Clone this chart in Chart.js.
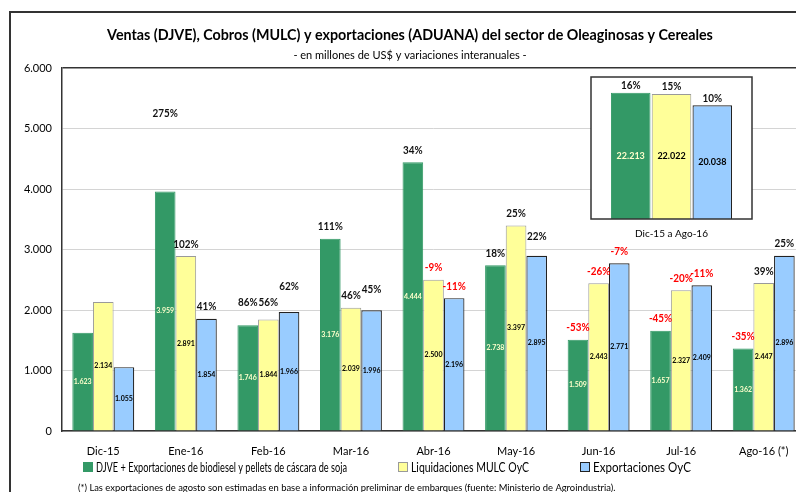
<!DOCTYPE html>
<html><head><meta charset="utf-8">
<script src="https://cdn.jsdelivr.net/npm/chart.js@4"></script>
<style>
html,body{margin:0;padding:0;background:#fff;overflow:hidden;width:796px;height:492px;}
#wrap{position:relative;width:796px;height:492px;overflow:hidden;}
#main{position:absolute;left:0;top:0;}
#inset{position:absolute;left:560px;top:70px;}
</style></head><body>
<div id="wrap"><canvas id="main" width="806" height="492"></canvas><canvas id="inset" width="220" height="175"></canvas></div>
<script>
// ---- data ----
const categories = ['Dic-15','Ene-16','Feb-16','Mar-16','Abr-16','May-16','Jun-16','Jul-16','Ago-16 (*)'];
const djve = [1623, 3959, 1746, 3176, 4444, 2738, 1509, 1657, 1362];
const mulc = [2134, 2891, 1844, 2039, 2500, 3397, 2443, 2327, 2447];
const expo = [1055, 1854, 1966, 1996, 2196, 2895, 2771, 2409, 2896];
const djveVar = [null, 275, 86, 111, 34, 18, -53, -45, -35];
const mulcVar = [null, 102, 56, 46, -9, 25, -26, -20, 39];
const expoVar = [null, 41, 62, 45, -11, 22, -7, -11, 25];
const yTickLabels = ['0','1.000','2.000','3.000','4.000','5.000','6.000'];
const insetCategory = ['Dic-15 a Ago-16'];
const totDjve = [22213];
const totMulc = [22022];
const totExpo = [20038];
const totVar = [16, 15, 10];
const seriesNames = ['DJVE + Exportaciones de biodiesel y pellets de cáscara de soja','Liquidaciones MULC OyC','Exportaciones OyC'];
const titleText = 'Ventas (DJVE), Cobros (MULC) y exportaciones (ADUANA) del sector de Oleaginosas y Cereales';
const subtitleText = '- en millones de US$ y variaciones interanuales -';
const footnoteText = '(*) Las exportaciones de agosto son estimadas en base a información preliminar de embarques (fuente: Ministerio de Agroindustria).';

// ---- styles ----
const FONT = 'Lato, "Open Sans", sans-serif';
const GREEN = '#339966', YELLOW = '#FFFF99', BLUE = '#99CCFF';
const fmt = v => String(v).replace(/\B(?=(\d{3})+(?!\d))/g, '.');

const barLabels = {
  id: 'barLabels',
  afterDatasetsDraw(chart, args, opts) {
    const ctx = chart.ctx;
    chart.data.datasets.forEach((ds, di) => {
      const meta = chart.getDatasetMeta(di);
      meta.data.forEach((bar, i) => {
        const v = ds.data[i];
        ctx.save();
        ctx.textAlign = 'center'; ctx.textBaseline = 'middle';
        ctx.font = 'bold ' + opts.valueSize + 'px ' + FONT;
        ctx.fillStyle = ds.valueColor;
        ctx.fillText(fmt(v), bar.x, (bar.y + bar.base) / 2);
        const p = ds.variations[i];
        if (p !== null && p !== undefined) {
          ctx.font = 'bold ' + opts.pctSize + 'px ' + FONT;
          ctx.fillStyle = p < 0 ? '#FF0000' : '#111';
          const extra = (opts.extraLift[di] || [])[i] || 0;
          const t = p + '%';
          ctx.fillText(t, bar.x, bar.y - opts.lift - extra, ctx.measureText(t).width * 0.9);
        }
        ctx.restore();
      });
    });
  }
};

const decor = {
  id: 'decor',
  beforeDraw(chart) {
    const ctx = chart.ctx;
    ctx.save(); ctx.fillStyle = '#fff'; ctx.fillRect(0, 0, chart.width, chart.height); ctx.restore();
  },
  afterDraw(chart) {
    const ctx = chart.ctx;
    ctx.save();
    // outer frame
    ctx.strokeStyle = '#333'; ctx.lineWidth = 2;
    ctx.beginPath(); ctx.moveTo(10, 500); ctx.lineTo(10, 12); ctx.lineTo(chart.width + 5, 12); ctx.stroke();
    // titles
    ctx.fillStyle = '#000'; ctx.textAlign = 'center'; ctx.textBaseline = 'middle';
    ctx.font = 'bold 14.3px ' + FONT;
    ctx.fillText(titleText, 410, 35);
    ctx.font = '11px ' + FONT;
    ctx.fillText(subtitleText, 410, 55);
    // legend
    const lx = [83, 398, 580];
    const lw = [251, 118, 98];
    ctx.textAlign = 'left';
    ctx.font = '13.2px ' + FONT;
    chart.data.datasets.forEach((ds, i) => {
      ctx.fillStyle = ds.backgroundColor;
      ctx.fillRect(lx[i], 462, 10, 10);
      ctx.strokeStyle = ds.borderColor; ctx.lineWidth = 1;
      ctx.strokeRect(lx[i] + 0.5, 462.5, 9, 9);
      ctx.fillStyle = '#000';
      ctx.fillText(ds.label, lx[i] + 13, 467.5, lw[i]);
    });
    // footnote
    ctx.font = '9.4px ' + FONT;
    ctx.fillText(footnoteText, 78, 488);
    ctx.restore();
  }
};

new Chart(document.getElementById('main'), {
  type: 'bar',
  data: {
    labels: categories,
    datasets: [
      { label: seriesNames[0], data: djve, variations: djveVar, backgroundColor: GREEN, borderColor: GREEN, borderWidth: 1, valueColor: '#FFFFCC' },
      { label: seriesNames[1], data: mulc, variations: mulcVar, backgroundColor: YELLOW, borderColor: '#9a9a9a', borderWidth: 1, valueColor: '#000' },
      { label: seriesNames[2], data: expo, variations: expoVar, backgroundColor: BLUE, borderColor: '#222', borderWidth: 1.2, valueColor: '#000' }
    ]
  },
  options: {
    responsive: false, animation: false, devicePixelRatio: 1,
    layout: { padding: { top: 68, left: 0, right: 1, bottom: 0 } },
    datasets: { bar: { categoryPercentage: 0.75, barPercentage: 1.0 } },
    plugins: {
      legend: { display: false }, tooltip: { enabled: false }, title: { display: false },
      barLabels: { valueSize: 7, pctSize: 11, lift: 12, extraLift: [[0, 66, 11, 0, 0, 0, 0, 0, 0], [0, 0, 5, 0, 0, 0, 0, 0, 0], [0, 0, 14, 9, 0, 7, 0, 0, 0]] }
    },
    scales: {
      x: {
        grid: { display: false, drawTicks: false },
        border: { display: true, color: '#333', width: 1.5 },
        ticks: { padding: 14, color: '#000', font: { family: FONT, size: 11 }, maxRotation: 0, autoSkip: false },
        afterFit: s => { s.height = 61; }
      },
      y: {
        min: 0, max: 6000,
        ticks: { stepSize: 1000, padding: 10, color: '#000', font: { family: FONT, size: 11 }, callback: (v, i) => yTickLabels[i] },
        grid: { drawTicks: false, color: c => (c.tick && c.tick.value === 6000) ? '#333' : '#d4d4d4', lineWidth: c => (c.tick && c.tick.value === 6000) ? 1.5 : 1 },
        border: { display: true, color: '#333', width: 1.5 },
        afterFit: s => { s.width = 62; }
      }
    }
  },
  plugins: [decor, barLabels]
});

const insetBox = {
  id: 'insetBox',
  beforeDatasetsDraw(chart) {
    const a = chart.chartArea, ctx = chart.ctx;
    ctx.save(); ctx.fillStyle = '#fff'; ctx.fillRect(a.left, a.top, a.right - a.left, a.bottom - a.top); ctx.restore();
  },
  afterDraw(chart) {
    const a = chart.chartArea, ctx = chart.ctx;
    ctx.save(); ctx.strokeStyle = '#333'; ctx.lineWidth = 1.5;
    ctx.strokeRect(a.left, a.top, a.right - a.left, a.bottom - a.top); ctx.restore();
  }
};

new Chart(document.getElementById('inset'), {
  type: 'bar',
  data: {
    labels: insetCategory,
    datasets: [
      { label: seriesNames[0], data: totDjve, variations: [totVar[0]], backgroundColor: GREEN, borderColor: GREEN, borderWidth: 1, valueColor: '#FFFFCC' },
      { label: seriesNames[1], data: totMulc, variations: [totVar[1]], backgroundColor: YELLOW, borderColor: '#9a9a9a', borderWidth: 1, valueColor: '#000' },
      { label: seriesNames[2], data: totExpo, variations: [totVar[2]], backgroundColor: BLUE, borderColor: '#222', borderWidth: 1.2, valueColor: '#000' }
    ]
  },
  options: {
    responsive: false, animation: false, devicePixelRatio: 1,
    layout: { padding: { top: 7, left: 31, right: 28, bottom: 0 } },
    datasets: { bar: { categoryPercentage: 0.76, barPercentage: 0.97 } },
    plugins: {
      legend: { display: false }, tooltip: { enabled: false },
      barLabels: { valueSize: 9, pctSize: 11, lift: 7, extraLift: [] }
    },
    scales: {
      x: {
        grid: { display: false, drawTicks: false }, border: { display: false },
        ticks: { padding: 9, color: '#000', font: { family: FONT, size: 10 } },
        afterFit: s => { s.height = 26; }
      },
      y: { display: false, min: 0, max: 25000 }
    }
  },
  plugins: [insetBox, barLabels]
});
</script>
</body></html>
